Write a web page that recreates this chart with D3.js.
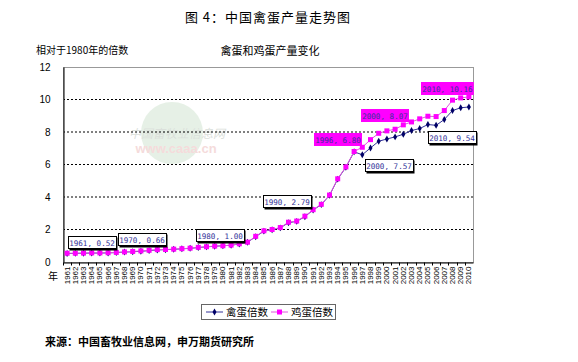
<!DOCTYPE html>
<html>
<head>
<meta charset="utf-8">
<script src="https://cdn.jsdelivr.net/npm/d3@7"></script>
<style>
  body { margin: 0; background: #fff; }
  svg { font-family: "Noto Sans CJK SC", sans-serif; }
</style>
</head>
<body>
<svg id="chart" width="578" height="362"></svg>
<script>
// categories
const years = [1961,1962,1963,1964,1965,1966,1967,1968,1969,1970,
               1971,1972,1973,1974,1975,1976,1977,1978,1979,1980,
               1981,1982,1983,1984,1985,1986,1987,1988,1989,1990,
               1991,1992,1993,1994,1995,1996,1997,1998,1999,2000,
               2001,2002,2003,2004,2005,2006,2007,2008,2009,2010];
// 禽蛋倍数
const poultry = [0.52,0.53,0.54,0.55,0.55,0.56,0.58,0.61,0.63,0.66,
                 0.70,0.74,0.76,0.78,0.81,0.84,0.89,0.93,0.97,1.00,
                 1.03,1.11,1.21,1.56,1.90,1.98,2.10,2.42,2.50,2.79,
                 3.20,3.53,4.10,5.10,5.83,6.78,6.60,7.02,7.43,7.57,
                 7.70,7.86,8.09,8.21,8.46,8.41,8.77,9.32,9.49,9.54];
// 鸡蛋倍数
const chicken = [0.54,0.54,0.55,0.56,0.56,0.57,0.59,0.62,0.65,0.68,
                 0.72,0.76,0.77,0.79,0.82,0.85,0.90,0.94,0.98,1.00,
                 1.04,1.12,1.22,1.58,1.92,2.00,2.12,2.45,2.52,2.82,
                 3.22,3.55,4.12,5.12,5.85,6.80,7.06,7.53,7.92,8.07,
                 8.17,8.44,8.62,8.81,8.97,8.95,9.32,9.96,10.10,10.16];
const yTicks = [0,2,4,6,8,10,12];
const seriesNames = ["禽蛋倍数","鸡蛋倍数"];
// data labels: year, value, series (0 = 禽蛋, 1 = 鸡蛋)
const labelYears  = [1961,1970,1980,1990,1996,2000,2000,2010,2010];
const labelValues = [0.52,0.66,1.00,2.79,6.80,8.07,7.57,9.54,10.16];
const labelSeries = [0,0,0,0,1,1,0,0,1];

const svg = d3.select("#chart");

// scales
const x = d3.scaleBand()
            .domain(years)
            .range([63,473]);
const y = d3.scaleLinear()
            .domain([0,12])
            .range([262,67]);
const cx = (d) => x(d) + x.bandwidth()/2;

// titles
svg.append("text")
   .attr("x",268).attr("y",22)
   .attr("text-anchor","middle")
   .style("font-size","13px")
   .style("letter-spacing","1px")
   .text("图 4：中国禽蛋产量走势图");
svg.append("text")
   .attr("x",36).attr("y",54)
   .style("font-size","10px")
   .text("相对于1980年的倍数");
svg.append("text")
   .attr("x",270).attr("y",55)
   .attr("text-anchor","middle")
   .style("font-size","11px")
   .text("禽蛋和鸡蛋产量变化");

// watermark
const wm = svg.append("g").style("opacity",0.35);
wm.append("circle")
  .attr("cx",172).attr("cy",133).attr("r",31)
  .attr("fill","#b9d7b9");
wm.append("text")
  .attr("x",177).attr("y",138)
  .attr("text-anchor","middle")
  .attr("fill","#9aa89a")
  .style("font-size","12px")
  .style("font-style","italic")
  .text("中国畜牧业信息网");
wm.append("text")
  .attr("x",176).attr("y",153)
  .attr("text-anchor","middle")
  .attr("fill","#e39a9a")
  .style("font-size","13px")
  .style("font-weight","bold")
  .style("font-family","Liberation Sans")
  .text("www.caaa.cn");

// gridlines
svg.append("g")
   .selectAll("line")
   .data(yTicks.filter((d) => d > 0 && d < 12))
   .enter()
   .append("line")
   .attr("x1",63).attr("x2",473)
   .attr("y1",(d) => y(d)).attr("y2",(d) => y(d))
   .attr("stroke","#000")
   .attr("stroke-width",1)
   .attr("stroke-dasharray","2,2");

// plot frame
svg.append("rect")
   .attr("x",63.5).attr("y",y(12)+0.5)
   .attr("width",410).attr("height",y(0)-y(12))
   .attr("fill","none")
   .attr("stroke","#999");

// y axis
const yAxis = d3.axisLeft(y).tickValues(yTicks).tickSize(0).tickPadding(13);
svg.append("g")
   .attr("transform","translate(63.5,0)")
   .call(yAxis)
   .call((g) => g.select(".domain").attr("stroke","#000"))
   .selectAll("text")
   .style("font-size","10px")
   .style("font-family","Liberation Sans")
   .attr("fill","#000");

// x axis
const xAxis = d3.axisBottom(x).tickSize(0).tickPadding(4);
const gx = svg.append("g")
   .attr("transform","translate(0,262.5)")
   .call(xAxis);
gx.select(".domain").attr("stroke","#000");
gx.selectAll("text")
  .attr("transform","rotate(-90)")
  .attr("x",-4).attr("y",0).attr("dy","0.32em")
  .attr("text-anchor","end")
  .style("font-size","8px")
  .style("font-family","Liberation Sans")
  .attr("fill","#000");
// tick marks between categories
gx.append("g")
  .selectAll("line")
  .data(years)
  .enter()
  .append("line")
  .attr("x1",(d) => Math.round(x(d)) + 0.5)
  .attr("x2",(d) => Math.round(x(d)) + 0.5)
  .attr("y1",0).attr("y2",3)
  .attr("stroke","#000");
svg.append("text")
   .attr("x",48).attr("y",280)
   .style("font-size","10px")
   .text("年");

// lines
const line = (vals) => d3.line()
                         .x((d,i) => cx(years[i]))
                         .y((d) => y(d))(vals);
svg.append("path")
   .attr("d",line(poultry))
   .attr("fill","none")
   .attr("stroke","#333399")
   .attr("stroke-width",1);
svg.append("g")
   .selectAll("path")
   .data(poultry)
   .enter()
   .append("path")
   .attr("d",d3.symbol(d3.symbolDiamond,14))
   .attr("transform",(d,i) => "translate(" + cx(years[i]) + "," + y(d) + ")")
   .attr("fill","#000066");

svg.append("path")
   .attr("d",line(chicken))
   .attr("fill","none")
   .attr("stroke","#e055e0")
   .attr("stroke-width",1);
svg.append("g")
   .selectAll("rect")
   .data(chicken)
   .enter()
   .append("rect")
   .attr("x",(d,i) => cx(years[i]) - 2.5)
   .attr("y",(d) => y(d) - 2.5)
   .attr("width",5).attr("height",5)
   .attr("fill","#ff00ff");

// data labels, offset from their point
const offsets = [[1,-18],[-23,-18],[-27,-17],[-42,-22],[-40,-19],[-26,-22],[-22,20],[-41,24],[-48,-15]];
labelYears.forEach(function(yr,i){
   const px = cx(yr), py = y(labelValues[i]);
   const g = svg.append("g")
                .attr("transform","translate(" + Math.round(px + offsets[i][0]) + "," + Math.round(py + offsets[i][1]) + ")");
   const txt = yr + ", " + labelValues[i].toFixed(2);
   const w = txt.length * 4.8;
   if(labelSeries[i] == 1){
      g.append("rect")
       .attr("width",w).attr("height",13)
       .attr("fill","#ff00ff");
   } else {
      g.append("rect")
       .attr("x",1.5).attr("y",1.5)
       .attr("width",w).attr("height",13)
       .attr("fill","#000");
      g.append("rect")
       .attr("x",0.5).attr("y",0.5)
       .attr("width",w).attr("height",12)
       .attr("fill","#fff")
       .attr("stroke","#000");
   }
   g.append("text")
    .attr("x",w/2).attr("y",10)
    .attr("text-anchor","middle")
    .style("font-family","DejaVu Sans Mono")
    .style("font-size","7.6px")
    .attr("fill","#333399")
    .text(txt);
});

// legend
const lg = svg.append("g").attr("transform","translate(201,304)");
lg.append("rect")
  .attr("x",0.5).attr("y",0.5)
  .attr("width",134).attr("height",15)
  .attr("fill","#fff")
  .attr("stroke","#666");
lg.append("line").attr("x1",5).attr("x2",22).attr("y1",8).attr("y2",8).attr("stroke","#333399");
lg.append("path").attr("d",d3.symbol(d3.symbolDiamond,14)).attr("transform","translate(13.5,8)").attr("fill","#000066");
lg.append("text").attr("x",25).attr("y",12).style("font-size","10.5px").text(seriesNames[0]);
lg.append("line").attr("x1",70).attr("x2",87).attr("y1",8).attr("y2",8).attr("stroke","#e055e0");
lg.append("rect").attr("x",76).attr("y",5.5).attr("width",5).attr("height",5).attr("fill","#ff00ff");
lg.append("text").attr("x",90).attr("y",12).style("font-size","10.5px").text(seriesNames[1]);

// source
svg.append("text")
   .attr("x",45).attr("y",346)
   .style("font-size","11px")
   .style("font-weight","bold")
   .text("来源：中国畜牧业信息网，申万期货研究所");
</script>
</body>
</html>
